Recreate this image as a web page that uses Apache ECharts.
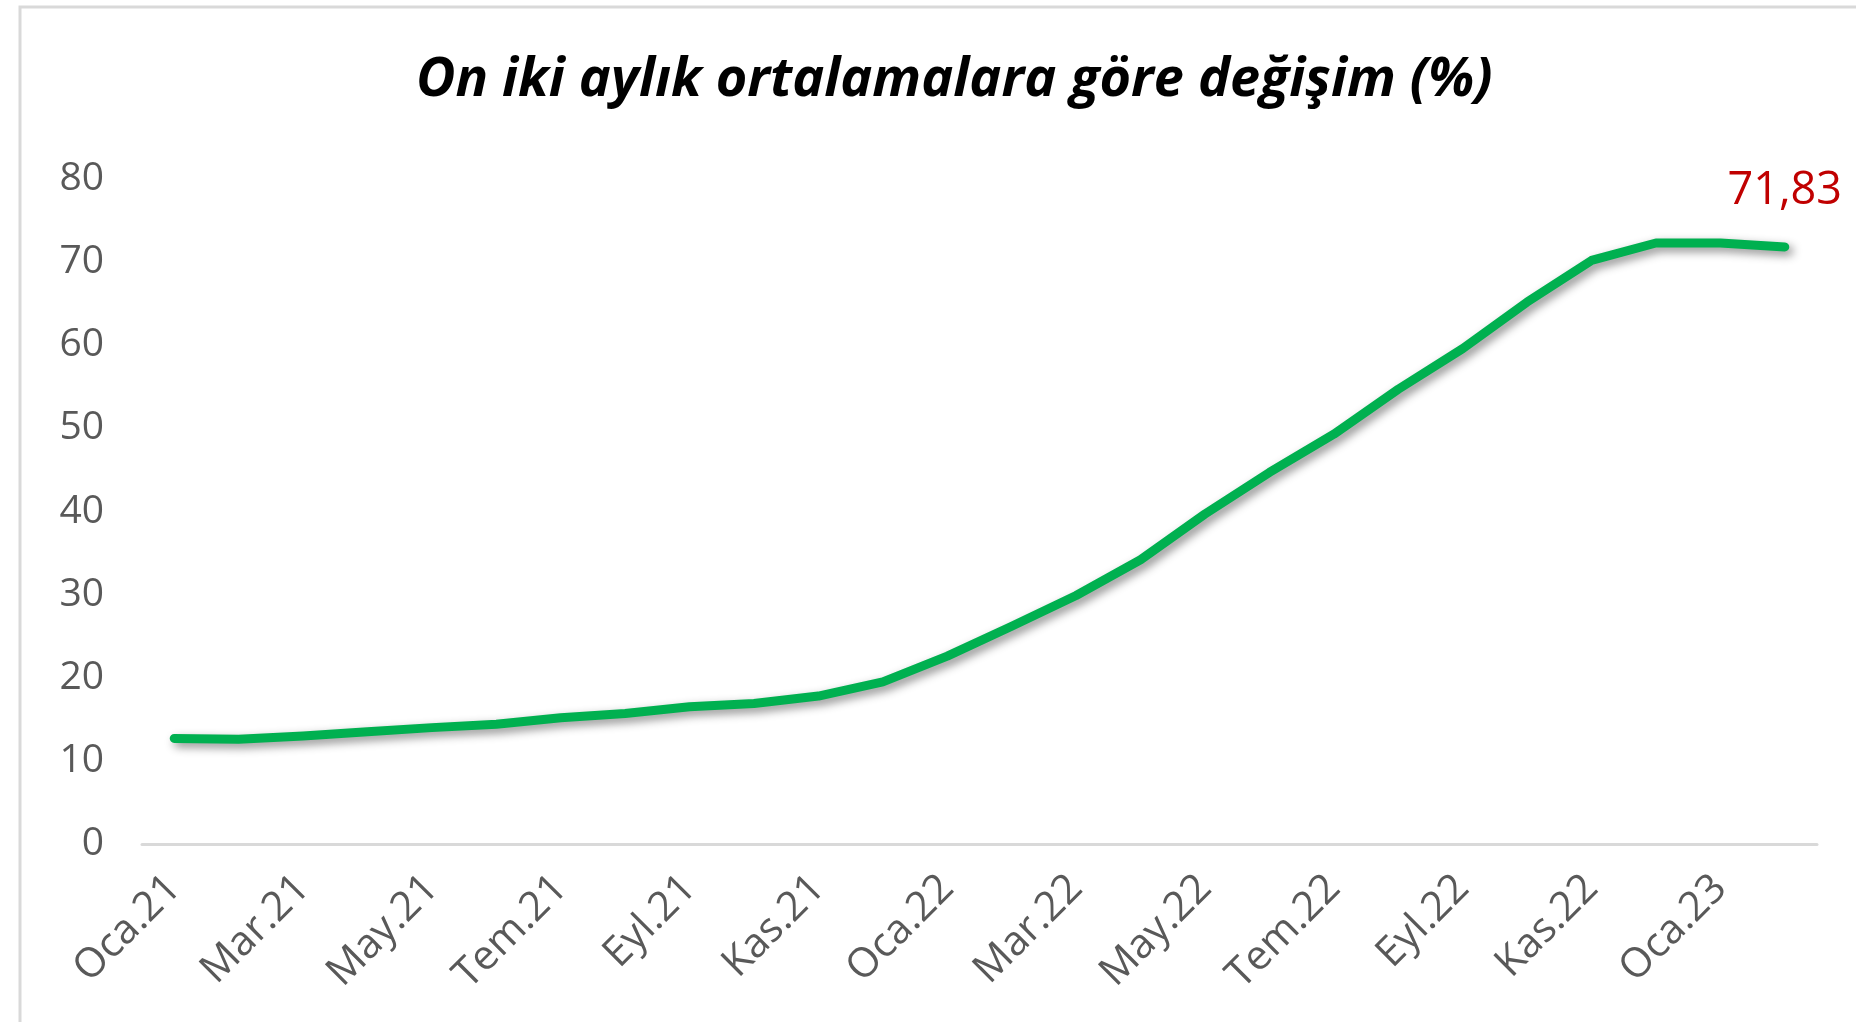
<!DOCTYPE html>
<html>

<head>
    <meta charset="utf-8">
    <title>On iki aylık ortalamalar</title>
    <style>
        body { margin: 0; background: #fff; }
    </style>
</head>

<body>
    <div id="main" style="width: 1856px;height: 1022px;"></div>

    <script src="https://cdn.jsdelivr.net/npm/echarts@6/dist/echarts.min.js"></script>
    <script>
        const chart = echarts.init(document.getElementById('main'));

        // aylar (Oca.21 - Şub.23)
        const months = ['Oca.21', 'Şub.21', 'Mar.21', 'Nis.21', 'May.21', 'Haz.21',
            'Tem.21', 'Ağu.21', 'Eyl.21', 'Eki.21', 'Kas.21', 'Ara.21',
            'Oca.22', 'Şub.22', 'Mar.22', 'Nis.22', 'May.22', 'Haz.22',
            'Tem.22', 'Ağu.22', 'Eyl.22', 'Eki.22', 'Kas.22', 'Ara.22',
            'Oca.23', 'Şub.23'
        ];

        // on iki aylık ortalamalara göre değişim (%)
        const change = [12.7, 12.6, 13.0, 13.5, 14.0, 14.4,
            15.2, 15.7, 16.5, 16.9, 17.8, 19.5,
            22.6, 26.2, 29.9, 34.2, 39.7, 44.7,
            49.3, 54.7, 59.6, 65.2, 70.2, 72.3,
            72.3, 71.83
        ];

        const last = change.length - 1;
        const font = '"Open Sans", Lato, sans-serif';

        const option = {
            backgroundColor: '#fff',
            animation: false,
            title: {
                text: 'On iki aylık ortalamalara göre değişim (%)',
                left: 411,
                top: 49,
                textStyle: {
                    fontFamily: font,
                    fontSize: 54,
                    fontWeight: 'bold',
                    fontStyle: 'italic',
                    color: '#000'
                }
            },
            // çerçeve
            graphic: [{
                type: 'rect',
                shape: { x: 20, y: 7, width: 1900, height: 1100 },
                style: { fill: 'none', stroke: '#d9d9d9', lineWidth: 3 },
                silent: true
            }],
            grid: {
                left: 142,
                right: 39,
                top: 179,
                bottom: 178
            },
            xAxis: {
                type: 'category',
                data: months,
                boundaryGap: true,
                axisLine: { lineStyle: { color: '#d9d9d9', width: 3 } },
                axisTick: { show: false },
                axisLabel: {
                    interval: 1,
                    rotate: 45,
                    margin: 38,
                    fontFamily: font,
                    fontSize: 41,
                    color: '#595959'
                }
            },
            yAxis: {
                type: 'value',
                min: 0,
                max: 80,
                interval: 10,
                splitLine: { show: false },
                axisLine: { show: false },
                axisTick: { show: false },
                axisLabel: {
                    margin: 38,
                    fontFamily: font,
                    fontSize: 39,
                    color: '#595959'
                }
            },
            series: [{
                type: 'line',
                data: change,
                symbol: 'none',
                lineStyle: {
                    color: '#00b050',
                    width: 9,
                    cap: 'round',
                    join: 'round',
                    shadowColor: 'rgba(0,0,0,0.45)',
                    shadowBlur: 10,
                    shadowOffsetX: 4,
                    shadowOffsetY: 4
                },
                // son değer etiketi
                markPoint: {
                    symbol: 'circle',
                    symbolSize: 1,
                    itemStyle: { color: 'rgba(0,0,0,0)' },
                    data: [{ coord: [months[last], change[last]] }],
                    label: {
                        show: true,
                        position: 'top',
                        distance: 33,
                        formatter: () => String(change[last]).replace('.', ','),
                        fontFamily: font,
                        fontSize: 45,
                        color: '#c00000'
                    }
                }
            }]
        };

        chart.setOption(option);
    </script>

</body>

</html>
